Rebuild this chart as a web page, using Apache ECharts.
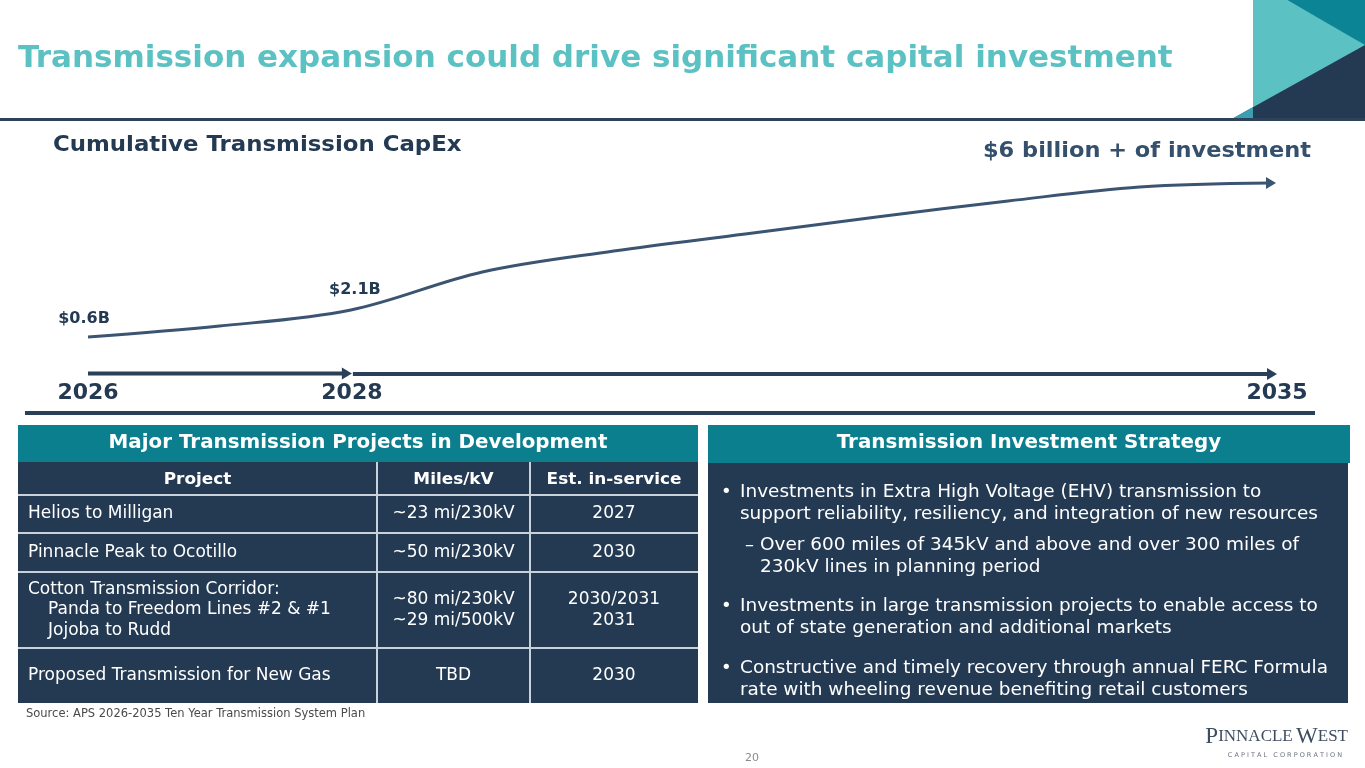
<!DOCTYPE html>
<html><head><meta charset="utf-8">
<script src="https://cdn.jsdelivr.net/npm/echarts@6/dist/echarts.min.js"></script>
<style>html,body{margin:0;padding:0;background:#fff}#c{width:1365px;height:768px}</style>
</head><body><div id="c"></div>
<script>
// ---------- data ----------
const titleText = 'Transmission expansion could drive significant capital investment';
const chartTitle = 'Cumulative Transmission CapEx';
const endNote = '$6 billion + of investment';
// schematic curve (no value axis on the slide): relative height
const curveYears  = [2026, 2027, 2028, 2029, 2030, 2031, 2032, 2033, 2034, 2035];
const curveHeight = [1.5, 7, 15, 34, 44.5, 53, 61.5, 69.5, 76.5, 78.5];
const labelYears  = [2026, 2028];
const labelTexts  = ['$0.6B', '$2.1B'];
const timelineYears = [2026, 2028, 2035];
const tableTitle = 'Major Transmission Projects in Development';
const tableHeaders = ['Project', 'Miles/kV', 'Est. in-service'];
const projectNames = [
  ['Helios to Milligan'],
  ['Pinnacle Peak to Ocotillo'],
  ['Cotton Transmission Corridor:', '  Panda to Freedom Lines #2 & #1', '  Jojoba to Rudd'],
  ['Proposed Transmission for New Gas']
];
const projectMilesKv = [['~23 mi/230kV'], ['~50 mi/230kV'], ['~80 mi/230kV', '~29 mi/500kV'], ['TBD']];
const projectInService = [['2027'], ['2030'], ['2030/2031', '2031'], ['2030']];
const sourceNote = 'Source: APS 2026-2035 Ten Year Transmission System Plan';
const strategyTitle = 'Transmission Investment Strategy';
const strategyItems = [
  {level: 1, lines: ['Investments in Extra High Voltage (EHV) transmission to', 'support reliability, resiliency, and integration of new resources']},
  {level: 2, lines: ['Over 600 miles of 345kV and above and over 300 miles of', '230kV lines in planning period']},
  {level: 1, lines: ['Investments in large transmission projects to enable access to', 'out of state generation and additional markets']},
  {level: 1, lines: ['Constructive and timely recovery through annual FERC Formula', 'rate with wheeling revenue benefiting retail customers']}
];
const pageNumber = '20';

// ---------- styles ----------
const FONT = '"DejaVu Sans", Verdana, sans-serif';
const NAVY = '#243A53';
const TEAL = '#0C7F8E';
const LIGHT_TEAL = '#5BC1C2';
const CURVE = '#3B5471';

const chart = echarts.init(document.getElementById('c'), null, {renderer: 'canvas'});

const curveData = curveYears.map((y, i) => {
  const item = {value: [y, curveHeight[i]]};
  const li = labelYears.indexOf(y);
  if (li >= 0) {
    item.symbol = 'circle'; item.symbolSize = 1; item.itemStyle = {color: 'rgba(0,0,0,0)'};
    item.label = {show: true, formatter: labelTexts[li], position: 'top',
      distance: li === 0 ? 10 : 12, offset: [li === 0 ? -4 : 4, 0],
      fontFamily: FONT, fontWeight: 'bold', fontSize: 16, color: NAVY};
  }
  if (i === curveYears.length - 1) {
    item.symbol = 'triangle'; item.symbolSize = [12, 10]; item.symbolRotate = -90;
    item.itemStyle = {color: CURVE};
  }
  return item;
});

chart.setOption({
  animation: false,
  grid: {left: 88, top: 140, width: 1183, height: 200},
  xAxis: {type: 'value', min: 2026, max: 2035, show: false},
  yAxis: {type: 'value', min: 0, max: 100, show: false},
  series: [{
    type: 'line', data: curveData, smooth: 0.35, clip: false,
    symbol: 'none', showSymbol: true, showAllSymbol: true,
    lineStyle: {color: CURVE, width: 3}, itemStyle: {color: CURVE}
  }]
});

const px = yr => chart.convertToPixel({gridIndex: 0}, [yr, 0])[0];

const g = [];
function text(x, y, s, o, sx) {
  g.push({type: 'text', x, y, scaleX: sx || 1, silent: true, style: Object.assign({
    text: s, fontFamily: FONT, fontSize: 17, fill: '#fff', align: 'left', verticalAlign: 'middle'
  }, o || {})});
}
function rect(x, y, w, h, fill) { g.push({type: 'rect', silent: true, shape: {x, y, width: w, height: h}, style: {fill}}); }
function line(x1, y1, x2, y2, stroke, w) { g.push({type: 'line', silent: true, shape: {x1, y1, x2, y2}, style: {stroke, lineWidth: w}}); }
function poly(points, fill) { g.push({type: 'polygon', silent: true, shape: {points}, style: {fill}}); }

// header decoration
poly([[1253, 0], [1287, 0], [1365, 44], [1365, 120], [1253, 120]], LIGHT_TEAL);
poly([[1287, 0], [1365, 0], [1365, 45]], '#0B8596');
poly([[1230, 120], [1365, 45], [1365, 120]], NAVY);
poly([[1230, 120], [1253, 107], [1253, 120]], '#3C9FB1');
line(0, 119.5, 1365, 119.5, '#2E4259', 3);
text(18, 59, titleText, {fontSize: 31, fontWeight: 'bold', fill: LIGHT_TEAL});

// chart texts
text(53, 146, chartTitle, {fontSize: 21, fontWeight: 'bold', fill: NAVY}, 1.088);
text(1311, 152, endNote, {fontSize: 21, fontWeight: 'bold', fill: '#34506C', align: 'right'}, 1.07);

// timeline
const tx = timelineYears.map(px);
const tlY = 373.5;
function arrow(x1, x2, y) {
  line(x1, y, x2 - 8, y, '#2A3F58', 4);
  poly([[x2 - 10, y - 6], [x2, y], [x2 - 10, y + 6]], '#2A3F58');
}
arrow(tx[0], tx[1] + 1, tlY);
arrow(tx[1] + 2, tx[2] + 6, tlY + 0.5);
const labelX = [tx[0], tx[1] + 1, tx[2] + 6];
timelineYears.forEach((yr, i) => text(labelX[i], 393, String(yr), {fontSize: 22, fontWeight: 'bold', fill: NAVY, align: 'center'}));
line(25, 413, 1315, 413, '#2A3F58', 4);

// left table
const colX = [18, 377, 530, 698];
rect(18, 425, 680, 37, TEAL);
rect(18, 462, 680, 241, NAVY);
text(358, 443, tableTitle, {fontSize: 19, fontWeight: 'bold', align: 'center'}, 1.046);
const rowTop = [495, 533, 572, 648];
const rowBottom = [533, 572, 648, 703];
rowTop.forEach(y => line(18, y, 698, y, '#C9D1DA', 2));
line(377, 462, 377, 703, '#C9D1DA', 2);
line(530, 462, 530, 703, '#C9D1DA', 2);
tableHeaders.forEach((h, i) => text((colX[i] + colX[i + 1]) / 2, 480, h, {fontWeight: 'bold', fontSize: 16, align: 'center'}, 1.055));
const LH = 20.5;
function cellLines(lines, x, i, align) {
  const mid = (rowTop[i] + rowBottom[i]) / 2;
  const start = mid - (lines.length - 1) * LH / 2;
  lines.forEach((s, k) => {
    const ind = s.startsWith('  ') ? 20 : 0;
    text(x + ind, start + k * LH, s.trim(), {align});
  });
}
projectNames.forEach((ls, i) => cellLines(ls, 28, i, 'left'));
projectMilesKv.forEach((ls, i) => cellLines(ls, (colX[1] + colX[2]) / 2, i, 'center'));
projectInService.forEach((ls, i) => cellLines(ls, (colX[2] + colX[3]) / 2, i, 'center'));
text(26, 714, sourceNote, {fontSize: 11.5, fill: '#4A4A4A'});

// right box
rect(708, 425, 642, 38, TEAL);
rect(708, 463, 640, 240, NAVY);
text(1029, 443, strategyTitle, {fontSize: 19, fontWeight: 'bold', align: 'center'}, 1.046);
const itemStart = [492, 545, 606, 668];
strategyItems.forEach((it, i) => {
  const bx = it.level === 1 ? 721 : 745;
  const tx0 = it.level === 1 ? 740 : 760;
  text(bx, itemStart[i], it.level === 1 ? '\u2022' : '\u2013', {fontSize: 18});
  it.lines.forEach((s, k) => text(tx0, itemStart[i] + k * 22, s, {fontSize: 18}, 1.025));
});

// footer
text(752, 758, pageNumber, {fontSize: 11, fill: '#8A8A8A', align: 'center'});
g.push({type: 'text', x: 1348, y: 737, silent: true, style: {
  text: '{b|P}{s|INNACLE} {b|W}{s|EST}', align: 'right', verticalAlign: 'middle',
  rich: {b: {fontFamily: '"Liberation Serif", serif', fontSize: 23, fill: '#3E4C60'},
         s: {fontFamily: '"Liberation Serif", serif', fontSize: 17, fill: '#3E4C60'}}
}});
text(1342, 755, 'C A P I T A L   C O R P O R A T I O N', {fontSize: 6.5, fill: '#6B7280', align: 'right'});

chart.setOption({graphic: {elements: g}});
</script></body></html>
